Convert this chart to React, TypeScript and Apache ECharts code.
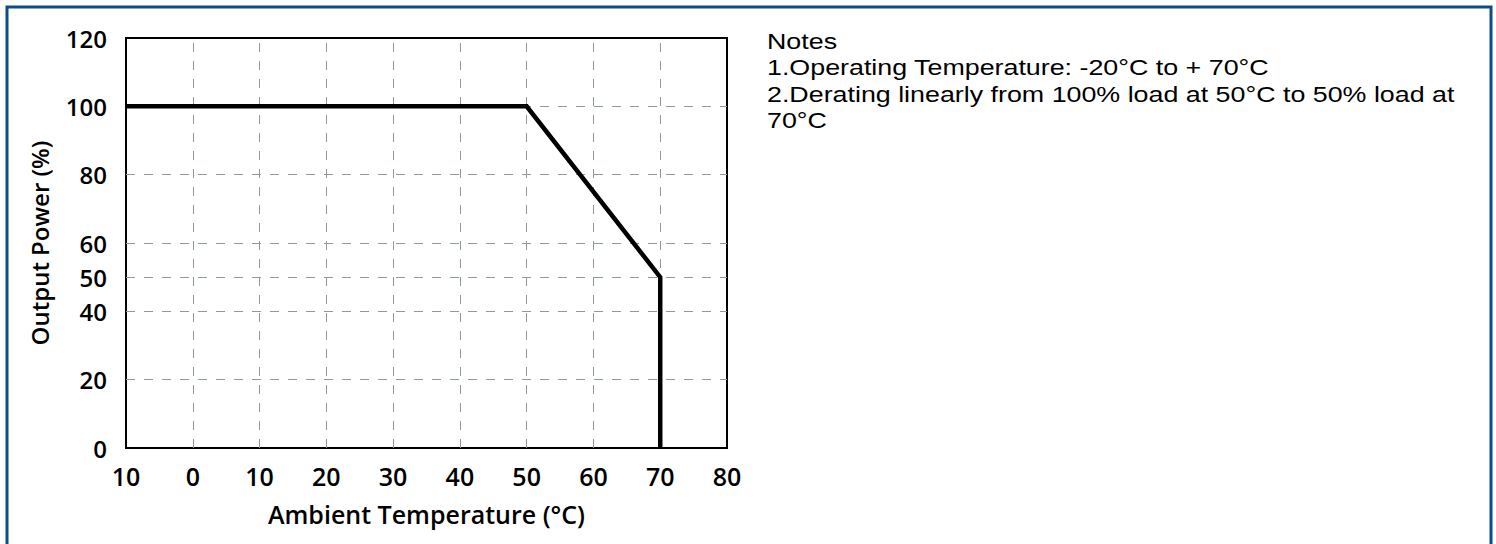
import React, { useEffect, useRef } from "react";
import * as echarts from "echarts";

const xTickLabels = ["10", "0", "10", "20", "30", "40", "50", "60", "70", "80"];
const xGridValues = [0, 10, 20, 30, 40, 50, 60, 70];
const yTickValues = [0, 20, 40, 50, 60, 80, 100, 120];
const yGridValues = [20, 40, 50, 60, 80, 100];
const curveX = [-10, 50, 70, 70];
const curveY = [100, 100, 50, 0];
const notes = [
  "Notes",
  "1.Operating Temperature: -20°C to + 70°C",
  "2.Derating linearly from 100% load at 50°C to 50% load at",
  "70°C",
];

const labelFont = "'Open Sans', sans-serif";

export default function App() {
  const ref = useRef<HTMLDivElement>(null);
  useEffect(() => {
    if (!ref.current) return;
    const chart = echarts.init(ref.current, null, { renderer: "svg" });
    const gridColor = "#8c9a9a";
    chart.setOption({
      animation: false,
      backgroundColor: "#ffffff",
      grid: {
        left: 126,
        right: 1496 - 727,
        top: 38,
        bottom: 544 - 448,
        show: true,
        borderColor: "#000",
        borderWidth: 2,
        backgroundColor: "transparent",
      },
      xAxis: {
        type: "value",
        min: -10,
        max: 80,
        interval: 10,
        name: "Ambient Temperature (°C)",
        nameLocation: "middle",
        nameGap: 53,
        nameTextStyle: { color: "#000", fontFamily: labelFont, fontWeight: 600, fontSize: 25 },
        axisLine: { show: true, onZero: false, lineStyle: { color: "#000", width: 2 } },
        axisTick: { show: false },
        axisLabel: {
          color: "#000",
          fontFamily: labelFont,
          fontWeight: 600,
          fontSize: 25,
          margin: 15,
          formatter: (_v: number, i: number) => xTickLabels[i] ?? "",
        },
        splitLine: { show: false },
      },
      yAxis: {
        type: "value",
        min: 0,
        max: 120,
        interval: 10,
        name: "Output Power (%)",
        nameLocation: "middle",
        nameGap: 75,
        nameTextStyle: { color: "#000", fontFamily: labelFont, fontWeight: 600, fontSize: 24 },
        axisLine: { show: true, onZero: false, lineStyle: { color: "#000", width: 2 } },
        axisTick: { show: false },
        axisLabel: {
          color: "#000",
          fontFamily: labelFont,
          fontWeight: 600,
          fontSize: 24,
          margin: 19,
          customValues: yTickValues,
        },
        splitLine: { show: false },
      },
      graphic: [
        {
          type: "rect",
          shape: { x: 7, y: 7, width: 1484, height: 600 },
          style: { fill: "none", stroke: "#0f4c85", lineWidth: 3 },
          silent: true,
        },
        ...notes.map((t, i) => ({
          type: "text",
          x: 767,
          y: 41 + i * 26.5,
          scaleX: 1.22,
          style: {
            text: t,
            fill: "#000",
            font: "22px 'Liberation Sans', Arial, sans-serif",
            verticalAlign: "middle",
          },
        })),
      ],
      series: [
        {
          type: "line",
          data: [],
          silent: true,
          markLine: {
            silent: true,
            symbol: "none",
            label: { show: false },
            lineStyle: { color: gridColor, type: [9, 9], width: 1 },
            data: [
              ...yGridValues.map((v) => ({ yAxis: v })),
              ...xGridValues.map((v) => ({ xAxis: v })),
            ],
          },
          z: 1,
        },
        {
          type: "line",
          data: curveX.map((x, i) => [x, curveY[i]]),
          showSymbol: false,
          symbol: "none",
          lineStyle: { color: "#000", width: 4.5, join: "miter" },
          z: 5,
        },
      ],
    });
    return () => chart.dispose();
  }, []);
  return (
    <div
      ref={ref}
      style={{ position: "fixed", left: 0, top: 0, width: 1496, height: 544 }}
    />
  );
}
